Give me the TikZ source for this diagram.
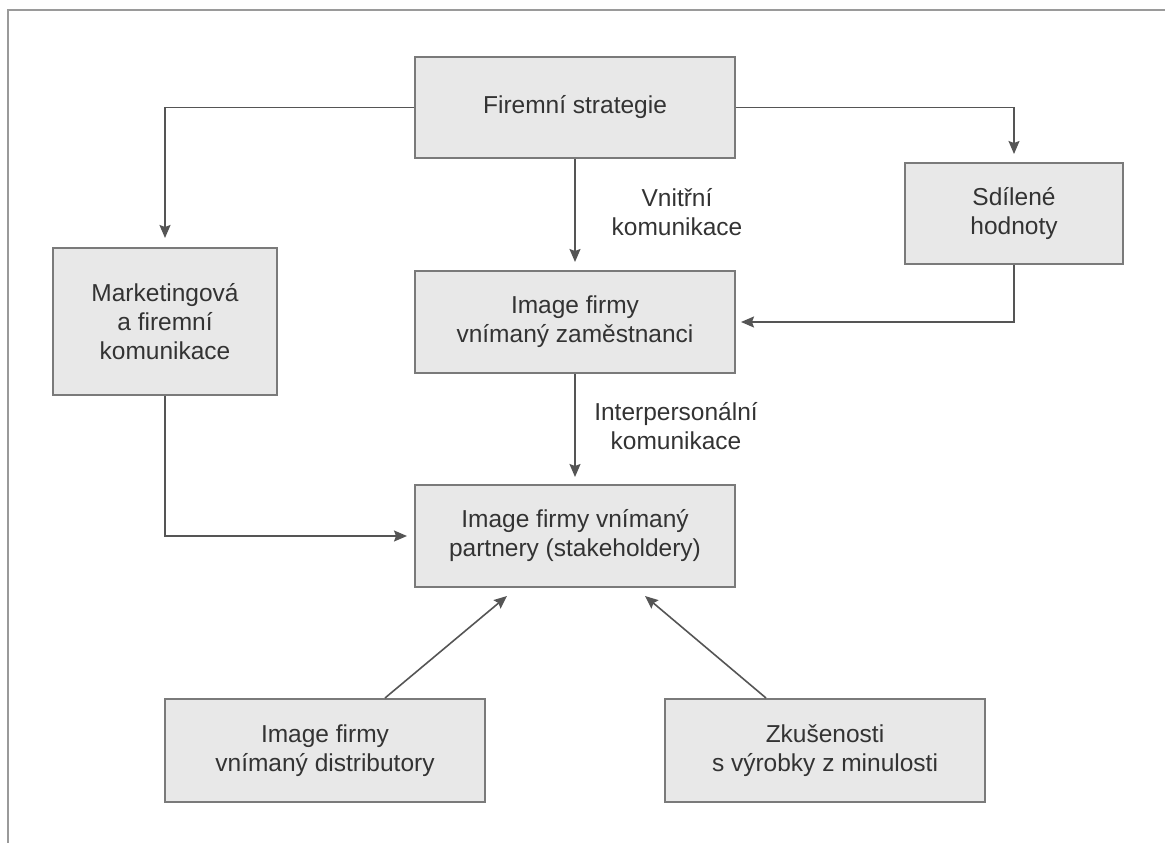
\documentclass[tikz,border=0pt]{standalone}
\usepackage{fontspec}
\setmainfont{Liberation Sans}
\usetikzlibrary{arrows.meta,calc}
\definecolor{boxfill}{HTML}{E8E8E8}
\definecolor{boxline}{HTML}{7A7A7A}
\definecolor{conn}{HTML}{555555}
\definecolor{txt}{HTML}{333333}
\definecolor{framec}{HTML}{9A9A9A}
\begin{document}
\begin{tikzpicture}[x=1pt,y=-1pt,
  every node/.style={font=\fontsize{24.5}{29}\selectfont, text=txt},
  box/.style={draw=boxline, fill=boxfill, line width=2pt, align=center, inner sep=0pt},
  arr/.style={draw=conn, line width=1.6pt, -{Stealth[length=13pt,width=11pt,inset=2pt]}},
  lbl/.style={align=center, inner sep=0pt}]
\useasboundingbox (0,0) rectangle (1165,843);
\draw[framec, line width=2pt] (1165,10) -- (8,10) -- (8,843);
\node[box, minimum width=320pt, minimum height=101pt] (fs) at (575,107.5) {Firemní strategie};
\node[box, minimum width=218pt, minimum height=101pt] (sh) at (1014,213.5) {Sdílené\\hodnoty};
\node[box, minimum width=224pt, minimum height=147pt] (mk) at (165,321.5) {Marketingová\\a firemní\\komunikace};
\node[box, minimum width=320pt, minimum height=102pt] (iz) at (575,322) {Image firmy\\vnímaný zaměstnanci};
\node[box, minimum width=320pt, minimum height=102pt] (ip) at (575,536) {Image firmy vnímaný\\partnery (stakeholdery)};
\node[box, minimum width=320pt, minimum height=103pt] (id) at (325,750.5) {Image firmy\\vnímaný distributory};
\node[box, minimum width=320pt, minimum height=103pt] (zk) at (825,750.5) {Zkušenosti\\s výrobky z minulosti};
\node[lbl] (vk) at (677,212) {Vnitřní\\komunikace};
\node[lbl] (ik) at (676,426) {Interpersonální\\komunikace};
\draw[arr, shorten >=9pt] (fs.west) -| (mk.north);
\draw[arr, shorten >=8pt] (fs.east) -| (sh.north);
\draw[arr, shorten >=8pt] (fs.south) -- (iz.north);
\draw[arr, shorten >=5pt] (sh.south) |- (iz.east);
\draw[arr, shorten >=7pt] (iz.south) -- (ip.north);
\draw[arr, shorten >=7pt] (mk.south) |- (ip.west);
\coordinate (ida) at ([xshift=60pt]id.north);
\coordinate (ipa) at ([xshift=-68pt,yshift=-8pt]ip.south);
\coordinate (zka) at ([xshift=-59pt]zk.north);
\coordinate (ipb) at ([xshift=70pt,yshift=-8pt]ip.south);
\draw[arr] (ida) -- (ipa);
\draw[arr] (zka) -- (ipb);
\end{tikzpicture}
\end{document}
